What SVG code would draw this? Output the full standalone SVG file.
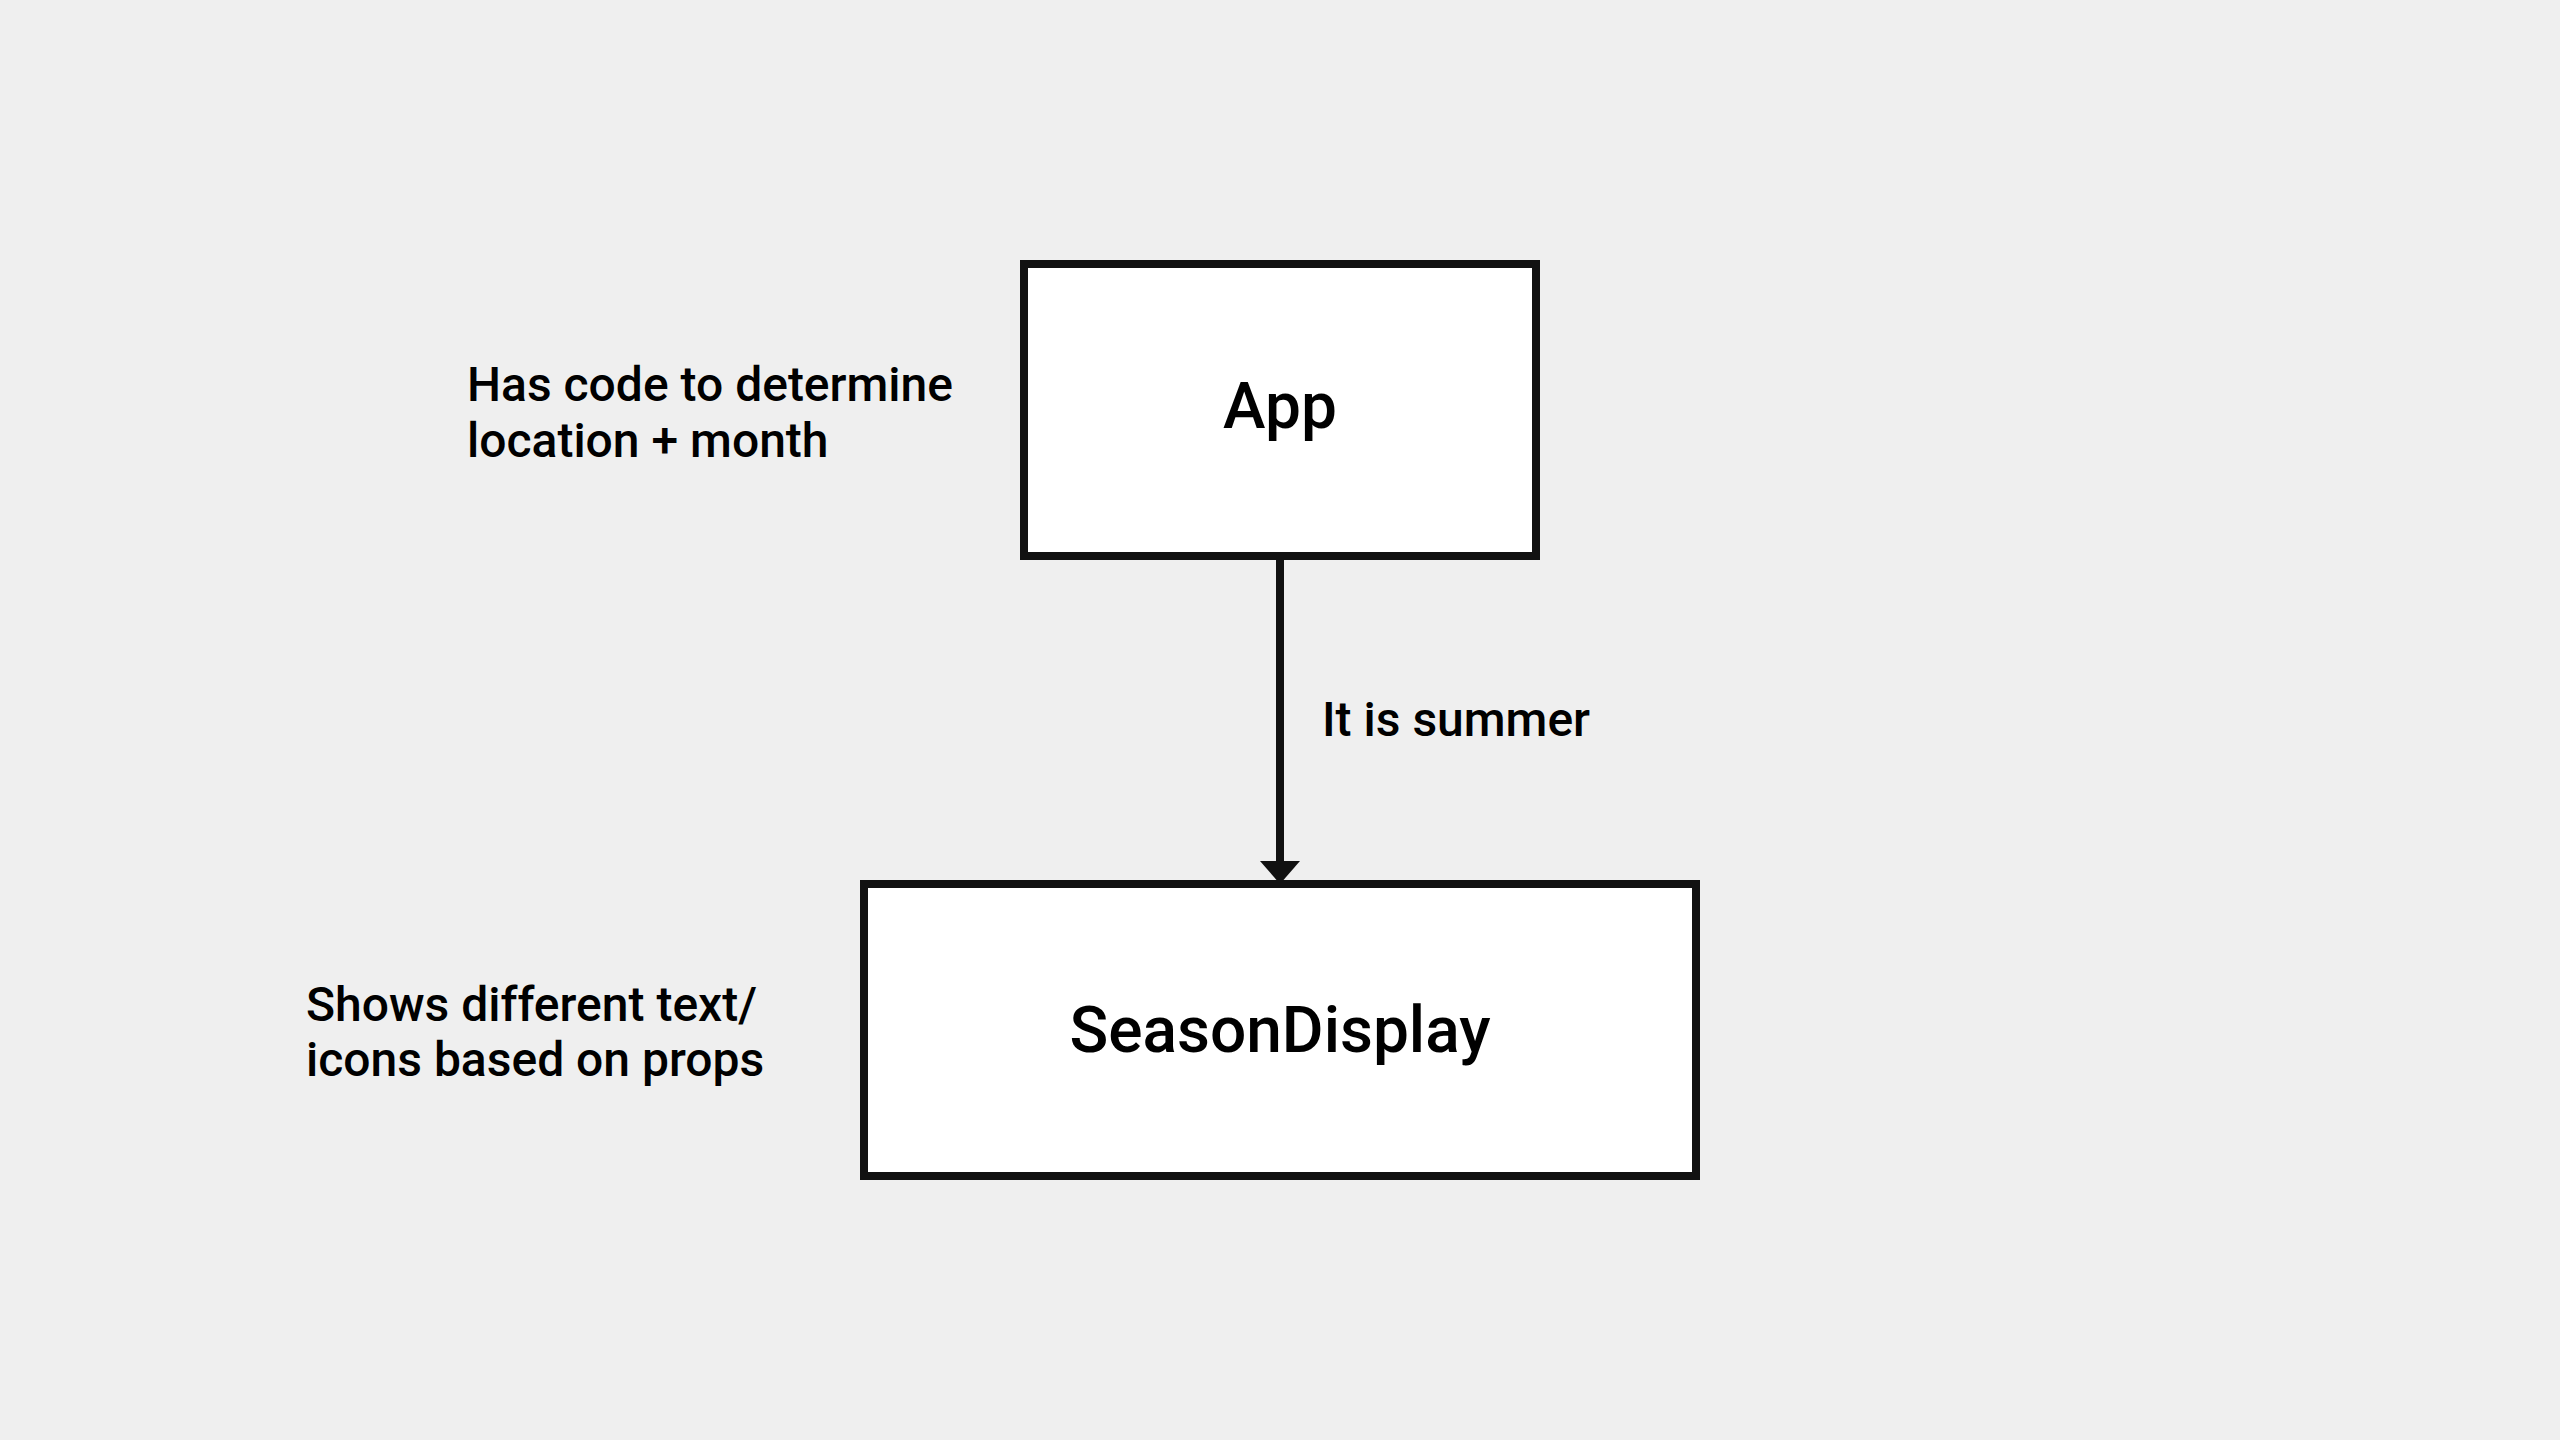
<svg xmlns="http://www.w3.org/2000/svg" width="2560" height="1440" viewBox="0 0 2560 1440">
<style>
.box{fill:#ffffff;stroke:#111111;stroke-width:8}
.title{font-family:Roboto,"Liberation Sans",sans-serif;font-size:64px;font-weight:500;fill:#000;text-anchor:middle}
.note{font-family:Roboto,"Liberation Sans",sans-serif;font-size:48px;font-weight:500;fill:#000}
.edge{stroke:#111111;stroke-width:8;fill:none}
</style>
<rect width="2560" height="1440" fill="#efefef"/>
<g id="connectors">
<line class="edge" x1="1280" y1="557" x2="1280" y2="862"/>
<path d="M1260,861 L1300,861 L1280,884 Z" fill="#111111"/>
<text class="note" x="1322" y="736">It is summer</text>
</g>
<g id="node-app">
<rect class="box" x="1024" y="264" width="512" height="292"/>
<text class="title" x="1280" y="428">App</text>
</g>
<g id="node-seasondisplay">
<rect class="box" x="864" y="884" width="832" height="292"/>
<text class="title" x="1280" y="1052">SeasonDisplay</text>
</g>
<g id="note-app">
<text class="note" x="467" y="401">Has code to determine</text>
<text class="note" x="467" y="457">location + month</text>
</g>
<g id="note-seasondisplay">
<text class="note" x="306" y="1021">Shows different text/</text>
<text class="note" x="306" y="1076">icons based on props</text>
</g>
</svg>
